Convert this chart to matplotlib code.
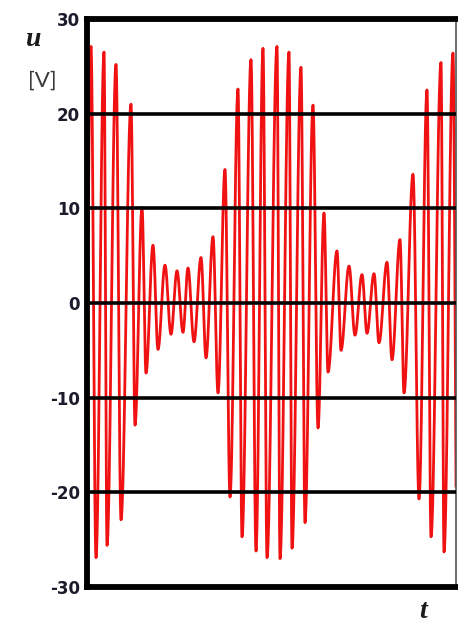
import numpy as np
import matplotlib
matplotlib.use("Agg")
import matplotlib.pyplot as plt

# ---- data ----
# time of each successive extremum of u(t) (arbitrary units, no x ticks in the original)
ext_t = [-3, 4, 9, 17, 20, 29, 34, 44, 48, 55, 59, 66, 71, 78, 84, 90, 96, 101, 107, 114,
         119, 126, 131, 138, 143, 151, 155, 164, 169, 176, 180, 190, 193, 202, 205, 214,
         218, 226, 231, 237, 241, 250, 254, 262, 268, 275, 280, 287, 292, 300, 305, 313,
         317, 326, 332, 340, 344, 354, 357, 366, 370]
# value of u at each extremum [V]
ext_u = [-26.9, 27.1, -26.9, 26.5, -25.6, 25.2, -22.9, 21.0, -12.9, 10.1, -7.4, 6.1,
         -4.9, 4.0, -3.3, 3.4, -3.1, 3.7, -4.1, 4.8, -5.8, 7.0, -9.5, 14.1, -20.5, 22.6,
         -24.7, 25.7, -26.2, 26.9, -26.9, 27.1, -27.0, 26.5, -25.9, 24.9, -23.2, 20.9,
         -13.2, 9.5, -7.3, 5.5, -5.0, 3.9, -3.4, 3.0, -3.2, 3.1, -4.2, 4.3, -6.0, 6.7,
         -9.5, 13.6, -20.7, 22.5, -24.7, 25.4, -26.3, 26.4, -26.6]

y_ticks = [-30, -20, -10, 0, 10, 20, 30]
grid_levels = [-20, -10, 0, 10, 20]
t_range = (0, 369)


def smooth_through_extrema(ts, us, n=30):
    """Draw half-cosine arcs between consecutive extrema (rendering only)."""
    tt, uu = [], []
    for i in range(len(ts) - 1):
        s = np.linspace(0, 1, n, endpoint=(i == len(ts) - 2))
        tt.append(ts[i] + (ts[i + 1] - ts[i]) * s)
        uu.append((us[i] + us[i + 1]) / 2 + (us[i] - us[i + 1]) / 2 * np.cos(np.pi * s))
    return np.concatenate(tt), np.concatenate(uu)


fig = plt.figure(figsize=(4.58, 6.23), dpi=100)
ax = fig.add_axes([87 / 458, (623 - 587) / 623, (456 - 87) / 458, (587 - 19) / 623])

t, u = smooth_through_extrema(ext_t, ext_u)
ax.plot(t, u, color="#f01212", lw=2.0, zorder=2, solid_joinstyle="round")

for g in grid_levels:
    ax.axhline(g, color="black", lw=2.6, zorder=3)

ax.set_xlim(*t_range)
ax.set_ylim(-30, 30)
ax.set_xticks([])
ax.set_yticks(y_ticks)
ax.set_yticklabels([str(v) for v in y_ticks], fontfamily="DejaVu Sans", fontweight="bold",
                   fontsize=12, color="#1c1c2c")
ax.tick_params(axis="y", length=0, pad=5)

for side in ("left", "top", "bottom"):
    ax.spines[side].set_linewidth(4.2)
    ax.spines[side].set_color("black")
    ax.spines[side].set_zorder(4)
ax.spines["right"].set_linewidth(1.2)
ax.spines["right"].set_color("#555555")

fig.text(34 / 458, 1 - 39 / 623, "u", fontfamily="Liberation Serif", fontstyle="italic",
         fontweight="bold", fontsize=20, color="#1a1a1a", ha="center", va="center")
fig.text(42 / 458, 1 - 81 / 623, "[V]", fontfamily="Lato", fontsize=16,
         color="#3a3a3a", ha="center", va="center")
fig.text(423 / 458, 1 - 612 / 623, "t", fontfamily="Liberation Serif", fontstyle="italic",
         fontweight="bold", fontsize=20, color="#1a1a1a", ha="center", va="center")

fig.savefig("out.png", dpi=100)
